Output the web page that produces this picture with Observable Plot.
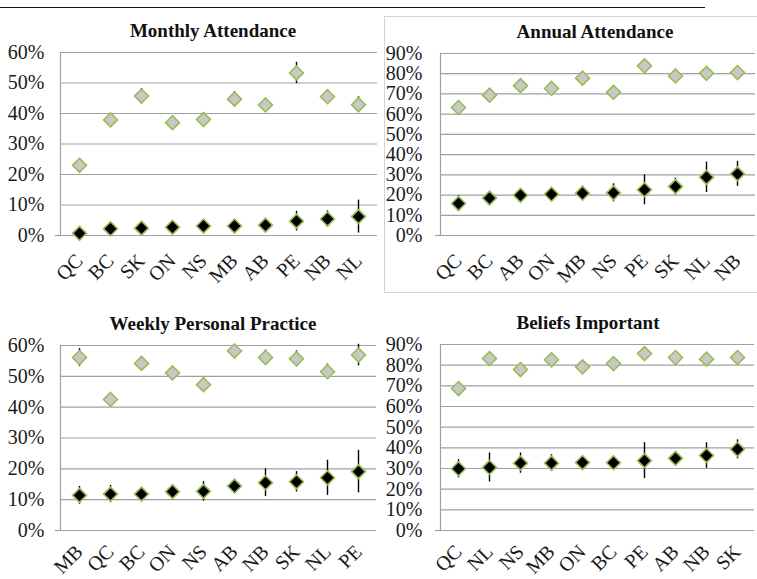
<!DOCTYPE html>
<html>
<head>
<meta charset="utf-8">
<script src="https://cdn.jsdelivr.net/npm/d3@7"></script>
<script src="https://cdn.jsdelivr.net/npm/@observablehq/plot@0.6"></script>
<style>
  html, body { margin: 0; padding: 0; background: #fff; }
  #root { position: relative; width: 757px; height: 579px; overflow: hidden; font-family: "Liberation Serif", "Times New Roman", serif; }
  .title { position: absolute; font-weight: bold; font-size: 19px; color: #111; transform: translateX(-50%); white-space: nowrap; }
  .panel { position: absolute; }
  .panel svg text { font-family: "Liberation Serif", "Times New Roman", serif; }
  #topline { position: absolute; left: 0; top: 7px; width: 705px; height: 0; border-top: 1.5px solid #111; }
  #box { position: absolute; left: 384px; top: 16px; width: 390px; height: 277px; border: 1.5px solid #d4d4d4; box-sizing: border-box; }
</style>
</head>
<body>
<div id="root">
  <div id="topline"></div>
  <div id="box"></div>
</div>
<script>
// ---- Data ----
const monthlyCats = ["QC","BC","SK","ON","NS","MB","AB","PE","NB","NL"];
const monthlyHigh = [23.0, 37.9, 45.7, 37.0, 38.0, 44.7, 42.8, 53.3, 45.5, 42.9];
const monthlyHighErr = [1.5, 2.0, 2.5, 2.0, 2.3, 2.5, 2.0, 3.5, 2.2, 2.6];
const monthlyLow = [0.7, 2.2, 2.4, 2.7, 3.1, 3.1, 3.4, 4.7, 5.4, 6.2];
const monthlyLowErr = [0.5, 1.0, 1.0, 1.2, 1.4, 1.4, 1.5, 3.2, 2.7, 5.4];

const annualCats = ["QC","BC","AB","ON","MB","NS","PE","SK","NL","NB"];
const annualHigh = [63.3, 69.4, 74.1, 72.7, 77.8, 70.8, 83.9, 78.9, 80.2, 80.6];
const annualHighErr = [1.5, 1.5, 1.5, 1.5, 2.0, 2.0, 2.0, 2.0, 2.0, 2.0];
const annualLow = [15.8, 18.5, 19.9, 20.4, 20.9, 21.1, 22.6, 24.2, 28.8, 30.5];
const annualLowErr = [3.8, 2.8, 3.0, 2.5, 3.5, 4.5, 7.4, 4.1, 7.5, 6.2];

const weeklyCats = ["MB","QC","BC","ON","NS","AB","NB","SK","NL","PE"];
const weeklyHigh = [56.1, 42.5, 54.2, 51.1, 47.3, 58.2, 56.1, 55.7, 51.5, 56.9];
const weeklyHighErr = [2.9, 1.5, 2.2, 2.0, 2.1, 2.0, 2.4, 2.6, 2.5, 3.5];
const weeklyLow = [11.4, 11.8, 11.8, 12.6, 12.7, 14.4, 15.5, 15.8, 17.1, 19.1];
const weeklyLowErr = [2.9, 2.8, 1.5, 1.8, 3.2, 2.0, 4.5, 3.3, 5.7, 6.9];

const beliefsCats = ["QC","NL","NS","MB","ON","BC","PE","AB","NB","SK"];
const beliefsHigh = [68.7, 83.2, 77.9, 82.6, 79.2, 80.8, 85.6, 83.7, 82.9, 83.7];
const beliefsHighErr = [1.5, 1.5, 1.5, 1.5, 1.5, 1.5, 1.5, 1.5, 1.5, 1.5];
const beliefsLow = [29.9, 30.5, 32.6, 32.6, 32.9, 32.8, 33.8, 34.9, 36.3, 39.3];
const beliefsLowErr = [4.4, 7.0, 4.9, 4.1, 2.5, 2.0, 8.7, 2.5, 6.2, 4.6];

const yTicks60 = [0, 10, 20, 30, 40, 50, 60];
const yTicks90 = [0, 10, 20, 30, 40, 50, 60, 70, 80, 90];

// ---- Drawing ----
const root = document.getElementById("root");
const SERIF = "Liberation Serif, Times New Roman, serif";

function rows(cats, high, highErr, low, lowErr) {
  const out = [];
  cats.forEach((c, i) => out.push({cat: c, v: high[i], e: highErr[i], s: "high"}));
  cats.forEach((c, i) => out.push({cat: c, v: low[i], e: lowErr[i], s: "low"}));
  return out;
}

function panel({title, titleX, titleY, left, top, width, marginLeft, marginRight, marginTop, zeroY, ticks, data, cats, tickPad, xPad}) {
  const t = document.createElement("div");
  t.className = "title";
  t.style.left = titleX + "px";
  t.style.top = titleY + "px";
  t.textContent = title;
  root.appendChild(t);

  const marginBottom = 60;
  const height = zeroY + marginBottom;
  const chart = Plot.plot({
    width, height, marginLeft, marginRight, marginTop, marginBottom,
    style: {fontFamily: SERIF, fontSize: "20px", color: "#1a1a1a", background: "transparent", overflow: "visible"},
    x: {type: "point", domain: cats, padding: 0.5, label: null},
    y: {domain: [0, ticks[ticks.length - 1]], label: null},
    marks: [
      Plot.gridY(ticks, {stroke: "#a0a0a0", strokeOpacity: 1, strokeWidth: 1.2}),
      Plot.frame({anchor: "left", stroke: "#a0a0a0", strokeWidth: 1.2}),
      Plot.axisY([0], {tickSize: 5, tickFormat: () => "", stroke: "#a0a0a0", strokeWidth: 1.2, label: null}),
      Plot.axisY(ticks, {tickSize: 0, tickPadding: tickPad, tickFormat: d => d + "%", fontSize: 20, fontFamily: SERIF, label: null}),
      Plot.axisX({tickSize: 0, tickPadding: xPad, tickRotate: -45, fontSize: 20, fontFamily: SERIF, label: null}),
      Plot.ruleX(data, {x: "cat", y1: d => d.v - d.e, y2: d => d.v + d.e, stroke: "#000", strokeWidth: 1.4}),
      Plot.dot(data, {x: "cat", y: "v", symbol: "diamond2", r: 6.3,
        fill: d => d.s === "high" ? "#c8c8c8" : "#000", stroke: "#9bbb59", strokeWidth: 1.6})
    ]
  });
  const wrap = document.createElement("div");
  wrap.className = "panel";
  wrap.style.left = left + "px";
  wrap.style.top = top + "px";
  wrap.appendChild(chart);
  root.appendChild(wrap);
}

panel({title: "Monthly Attendance", titleX: 213, titleY: 20, left: 0, top: 44, width: 380,
  marginLeft: 60, marginRight: 3, marginTop: 8, zeroY: 191, ticks: yTicks60, tickPad: 16, xPad: 22,
  cats: monthlyCats, data: rows(monthlyCats, monthlyHigh, monthlyHighErr, monthlyLow, monthlyLowErr)});

panel({title: "Annual Attendance", titleX: 595, titleY: 21, left: 378, top: 44, width: 379,
  marginLeft: 62, marginRight: 2, marginTop: 9, zeroY: 191, ticks: yTicks90, tickPad: 18, xPad: 22,
  cats: annualCats, data: rows(annualCats, annualHigh, annualHighErr, annualLow, annualLowErr)});

panel({title: "Weekly Personal Practice", titleX: 213, titleY: 313, left: 0, top: 336, width: 380,
  marginLeft: 60, marginRight: 4, marginTop: 9, zeroY: 194, ticks: yTicks60, tickPad: 16, xPad: 18,
  cats: weeklyCats, data: rows(weeklyCats, weeklyHigh, weeklyHighErr, weeklyLow, weeklyLowErr)});

panel({title: "Beliefs Important", titleX: 588, titleY: 312, left: 378, top: 336, width: 379,
  marginLeft: 62, marginRight: 3, marginTop: 8, zeroY: 194, ticks: yTicks90, tickPad: 18, xPad: 18,
  cats: beliefsCats, data: rows(beliefsCats, beliefsHigh, beliefsHighErr, beliefsLow, beliefsLowErr)});
</script>
</body>
</html>
